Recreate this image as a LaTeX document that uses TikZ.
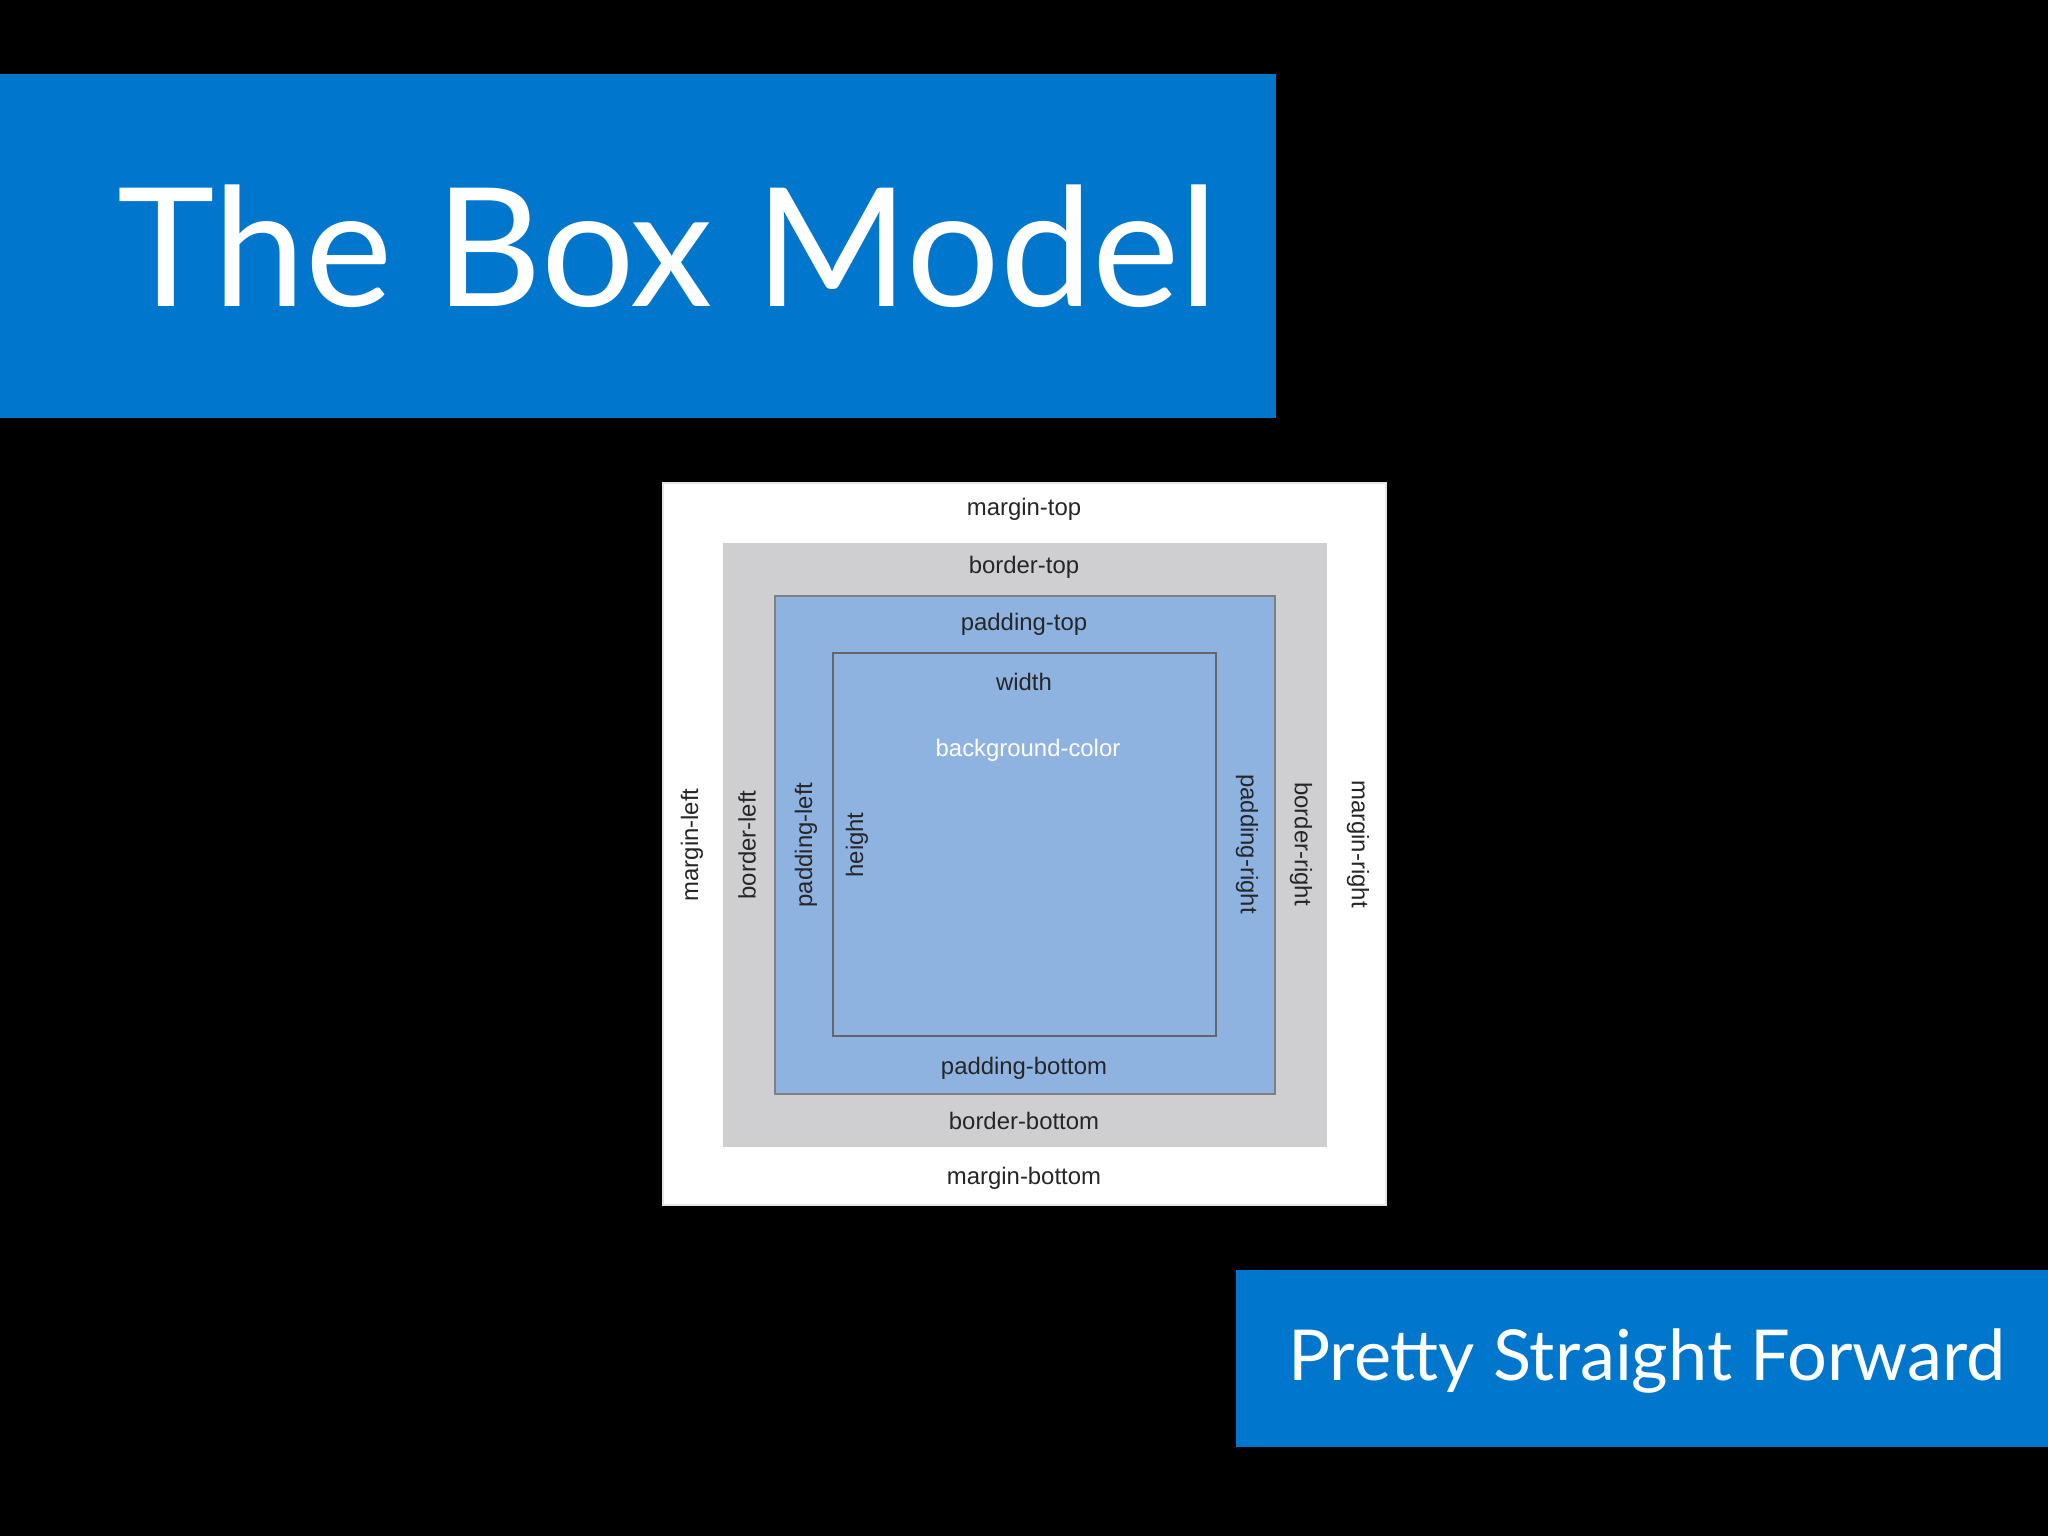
\documentclass[tikz,border=0pt]{standalone}
\usepackage{fontspec}
\setmainfont{Lato}
\newfontfamily\labelfont{Liberation Sans}
\definecolor{slideblue}{HTML}{0077CC}
\definecolor{bordergray}{HTML}{CFCED1}
\definecolor{padblue}{HTML}{8FB3E1}
\tikzset{
  boxlabel/.style={font=\labelfont\fontsize{6.8}{8}\selectfont, text=black!85, inner sep=0pt},
  leftlabel/.style={boxlabel, rotate=90},
  rightlabel/.style={boxlabel, rotate=-90},
}
\begin{document}
\begin{tikzpicture}
\fill[black] (0,0) rectangle (20.48,15.36);
\useasboundingbox (0,0) rectangle (20.48,15.36);

% title and subtitle bars
\fill[slideblue] (0,14.62) rectangle (12.76,11.18);
\node[text=white, font=\fontsize{47}{50}\selectfont, anchor=west] (title) at (1.05,12.9) {The Box Model};
\fill[slideblue] (12.36,2.66) rectangle (20.48,0.89);
\node[text=white, font=\fontsize{20}{24}\selectfont] (subtitle) at (16.47,1.75) {Pretty Straight Forward};

% nested boxes
\draw[white!80!gray, fill=white] (6.63,10.53) rectangle (13.86,3.31);
\fill[bordergray] (7.23,9.93) rectangle (13.27,3.89);
\draw[black!50, fill=padblue] (7.75,9.40) rectangle (12.75,4.42);
\draw[black!60] (8.33,8.83) rectangle (12.16,5.00);

% labels
\node[boxlabel] (margintop) at (10.24,10.27) {margin-top};
\node[boxlabel] (bordertop) at (10.24,9.69) {border-top};
\node[boxlabel] (paddingtop) at (10.24,9.12) {padding-top};
\node[boxlabel] (width) at (10.24,8.54) {width};
\node[boxlabel, text=white] (bgcolor) at (10.28,7.86) {background-color};
\node[boxlabel] (paddingbottom) at (10.24,4.68) {padding-bottom};
\node[boxlabel] (borderbottom) at (10.24,4.15) {border-bottom};
\node[boxlabel] (marginbottom) at (10.24,3.58) {margin-bottom};
\node[leftlabel] (marginleft) at (6.92,6.91) {margin-left};
\node[leftlabel] (borderleft) at (7.47,6.91) {border-left};
\node[leftlabel] (paddingleft) at (8.06,6.91) {padding-left};
\node[leftlabel] (height) at (8.57,6.91) {height};
\node[rightlabel] (paddingright) at (12.47,6.92) {padding-right};
\node[rightlabel] (borderright) at (13.01,6.92) {border-right};
\node[rightlabel] (marginright) at (13.58,6.92) {margin-right};
\end{tikzpicture}
\end{document}
